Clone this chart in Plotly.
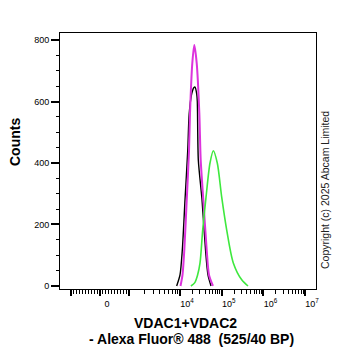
import numpy as np
import plotly.graph_objects as go

# ---- data (fluorescence intensity, counts) ----
black_x = [8600, 10000, 11350, 13180, 15310, 16600, 19050, 21380, 22910, 25120, 26000, 27480, 33730, 40930, 46880, 55340]
black_y = [0, 36, 117, 280, 440, 560, 625, 645, 647, 625, 600, 410, 280, 117, 36, 0]

magenta_x = [10280, 11480, 12680, 14490, 16440, 17380, 19720, 22030, 25120, 29040, 31330, 36220, 43650, 49550, 61800]
magenta_y = [0, 36, 117, 280, 440, 563, 725, 784, 725, 563, 410, 280, 117, 36, 0]

green_x = [18240, 22390, 26300, 30200, 34990, 42070, 52360, 62950, 78340, 100000, 131800, 189700, 302000, 426600]
green_y = [0, 10, 35, 75, 182, 289, 400, 440, 400, 289, 182, 75, 20, 0]

x_major_vals = [-1000, 0, 1000, 1e4, 1e5, 1e6, 1e7]
x_major_text = ["", "0", "", "10<sup>4</sup>", "10<sup>5</sup>", "10<sup>6</sup>", "10<sup>7</sup>"]
y_major_vals = [0, 200, 400, 600, 800]


# ---- biexponential-like display transform ----
D0 = 2.0815
D1000 = 2.777


def T(v):
    v = float(v)
    if abs(v) <= 1000:
        return D0 + (D1000 - D0) * v / 1000.0
    if abs(v) <= 1e4:
        d = D1000 + (4 - D1000) * (np.log10(abs(v)) - 3)
        return d if v > 0 else 2 * D0 - d
    d = np.log10(abs(v))
    return d if v > 0 else 2 * D0 - d


minor_vals = []
for k in range(-9, 10):
    if k != 0:
        minor_vals.append(k * 100)
for dec in [1e3, 1e4, 1e5, 1e6]:
    for k in range(2, 10):
        minor_vals.append(k * dec)

FONT = "Liberation Sans, Arial, sans-serif"

fig = go.Figure()
fig.add_trace(go.Scatter(x=[T(v) for v in black_x], y=black_y, mode="lines",
                         line=dict(color="#000000", width=1.4, shape="spline", smoothing=0.7)))
fig.add_trace(go.Scatter(x=[T(v) for v in magenta_x], y=magenta_y, mode="lines",
                         line=dict(color="#dd33dd", width=2, shape="spline", smoothing=0.7)))
fig.add_trace(go.Scatter(x=[T(v) for v in green_x], y=green_y, mode="lines",
                         line=dict(color="#3ee83e", width=1.6, shape="spline", smoothing=0.8)))

fig.update_layout(
    width=362, height=351,
    margin=dict(l=60, r=46, t=33, b=62),
    paper_bgcolor="white", plot_bgcolor="white",
    showlegend=False,
    font=dict(family=FONT, size=9, color="#000000"),
)

fig.update_xaxes(
    range=[1.122, 7.261],
    tickmode="array",
    tickvals=[T(v) for v in x_major_vals],
    ticktext=x_major_text,
    ticks="outside", ticklen=6, tickwidth=1.5, tickcolor="#000000",
    ticklabelshift=7,
    showline=True, linecolor="#000000", linewidth=1, mirror=True,
    showgrid=False, zeroline=False,
    tickfont=dict(family=FONT, size=9, color="#000000"),
    minor=dict(tickmode="array", tickvals=[T(v) for v in minor_vals],
               ticks="outside", ticklen=4, tickwidth=1, tickcolor="#000000", showgrid=False),
)

fig.update_yaxes(
    range=[-9.8, 822.8],
    tickmode="array",
    tickvals=y_major_vals,
    ticktext=[str(v) for v in y_major_vals],
    ticks="outside", ticklen=8, tickwidth=1.5, tickcolor="#000000",
    showline=True, linecolor="#000000", linewidth=1, mirror=True,
    showgrid=False, zeroline=False,
    tickfont=dict(family=FONT, size=9, color="#000000"),
    minor=dict(dtick=50, tick0=0, ticks="outside", ticklen=3, tickwidth=1,
               tickcolor="#000000", showgrid=False),
)

# axis titles and copyright as annotations
fig.add_annotation(text="<b>Counts</b>", textangle=-90, xref="paper", yref="paper",
                   x=(15 - 60) / 256, y=(289 - 142) / 256, xanchor="center", yanchor="middle",
                   showarrow=False, font=dict(family=FONT, size=14, color="#000000"))
fig.add_annotation(text="<b>VDAC1+VDAC2</b>", xref="paper", yref="paper",
                   x=(185 - 60) / 256, y=(289 - 323) / 256, xanchor="center", yanchor="middle",
                   showarrow=False, font=dict(family=FONT, size=14, color="#000000"))
fig.add_annotation(text="<b>- Alexa Fluor® 488\u00a0\u00a0(525/40 BP)</b>", xref="paper", yref="paper",
                   x=(191 - 60) / 256, y=(289 - 339) / 256, xanchor="center", yanchor="middle",
                   showarrow=False, font=dict(family=FONT, size=14, color="#000000"))
fig.add_annotation(text="Copyright (c) 2025 Abcam Limited", textangle=-90, xref="paper", yref="paper",
                   x=(325 - 60) / 256, y=(289 - 190) / 256, xanchor="center", yanchor="middle",
                   showarrow=False, font=dict(family=FONT, size=10.5, color="#222222"))

fig.write_html("out.html")
